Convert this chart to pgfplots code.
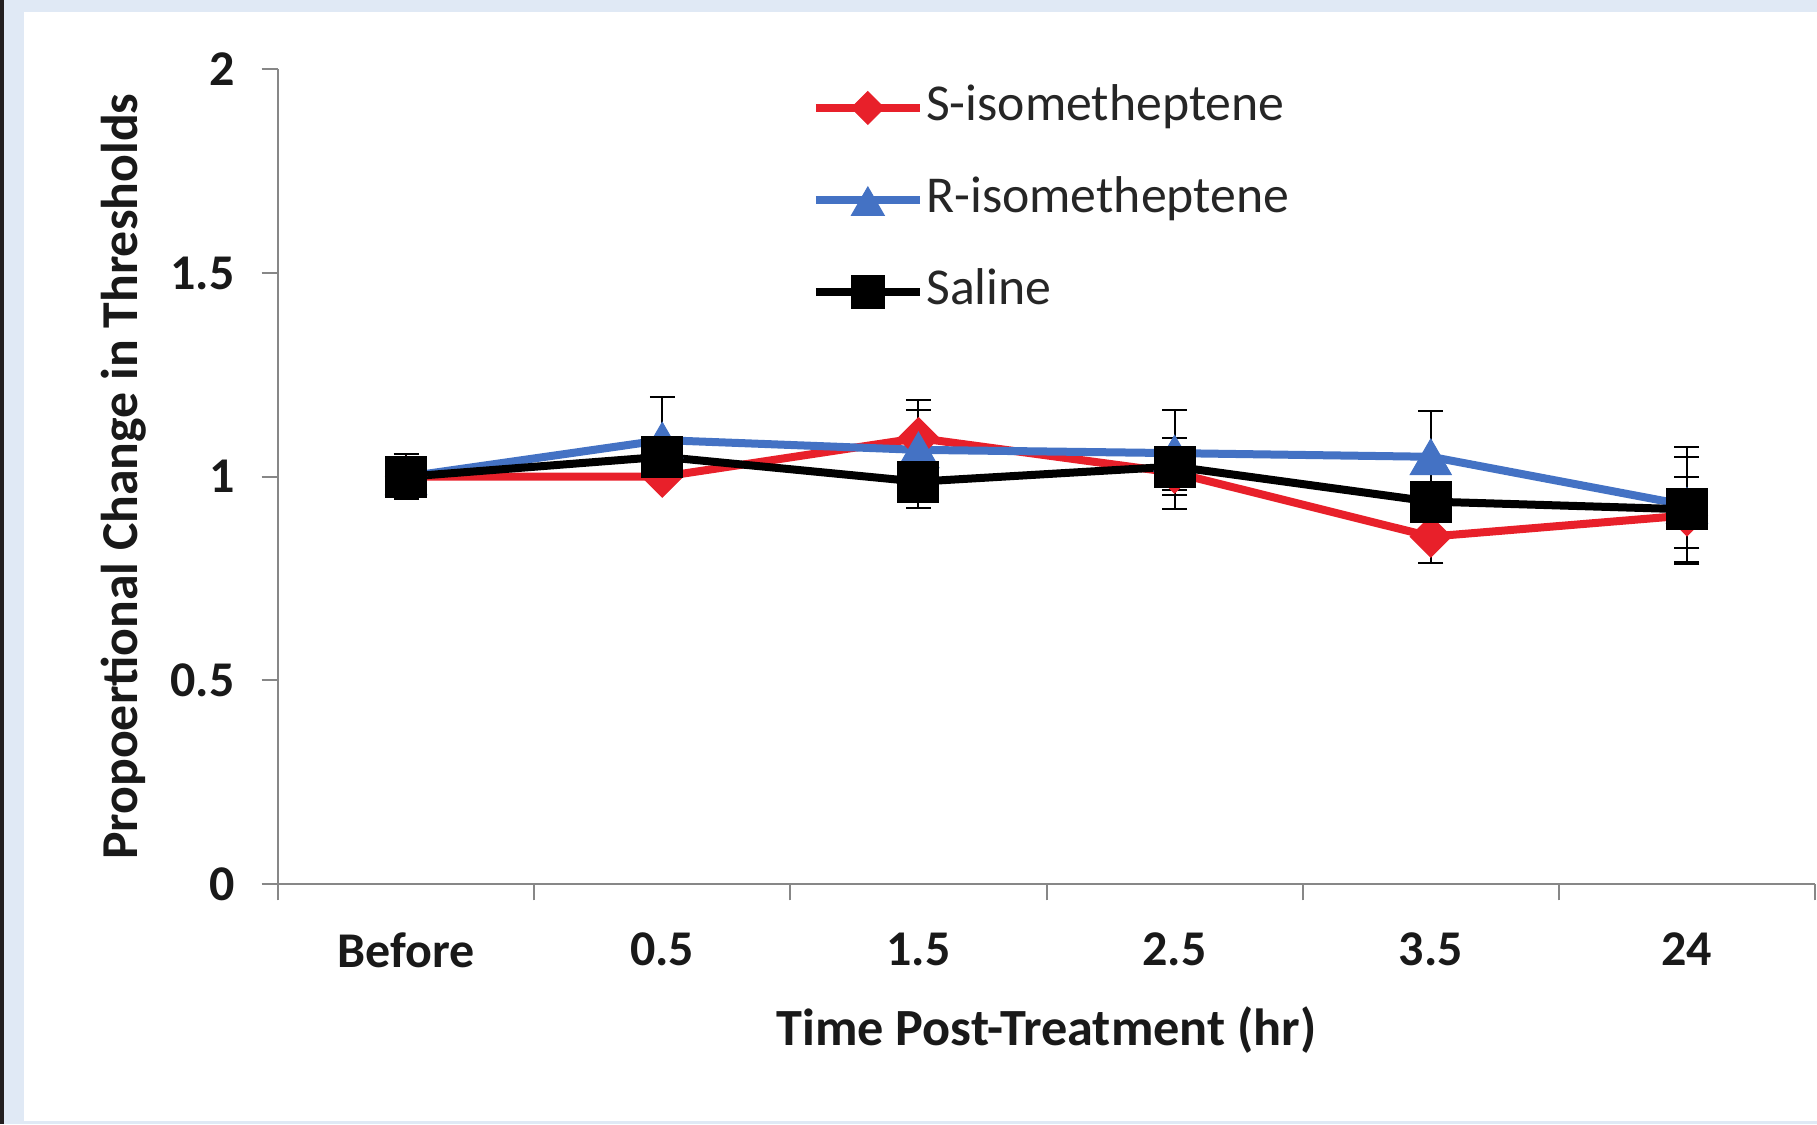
\documentclass[border=0pt]{standalone}
\usepackage{fontspec}
\setmainfont{Carlito}
\usepackage{pgfplots}
\pgfplotsset{compat=1.18}
\definecolor{sred}{HTML}{E8202A}
\definecolor{rblue}{HTML}{4472C4}
\definecolor{bgblue}{HTML}{E0E9F5}
\definecolor{axgray}{HTML}{878787}
\definecolor{darkstrip}{HTML}{231F20}
\begin{document}
\begin{tikzpicture}
\useasboundingbox (0,0) rectangle (726.8pt,449.6pt);
\fill[bgblue] (0,0) rectangle (726.8pt,449.6pt);
\fill[darkstrip] (0,0) rectangle (1.6pt,449.6pt);
\fill[white] (9.6pt,1.2pt) rectangle (726.8pt,444.8pt);
\begin{axis}[
  at={(111.2pt,96pt)}, anchor=south west,
  width=614.8pt, height=325.8pt, scale only axis,
  xmin=-0.5, xmax=5.5, ymin=0, ymax=2,
  axis x line*=bottom, axis y line*=left,
  axis line style={axgray, line width=0.8pt},
  xtick={0,...,5}, xticklabels={Before,0.5,1.5,2.5,3.5,24},
  minor xtick={-0.5,0.5,...,5.5},
  ytick={0,0.5,1,1.5,2}, yticklabels={0,0.5,1,1.5,2},
  tick align=outside,
  major tick length=6.5pt, minor tick length=6.5pt,
  tick style={axgray, line width=0.8pt},
  major x tick style={draw=none},
  ticklabel style={font=\bfseries\fontsize{20}{24}\selectfont, text=black!90},
  x tick label style={yshift=-9.6pt},
  y tick label style={xshift=-7.3pt},
  xlabel={Time Post-Treatment (hr)},
  ylabel={Propoertional Change in Thresholds},
  every axis x label/.style={at={(axis description cs:0.5,-0.1977)}, anchor=base,
    font=\bfseries\fontsize{20.9}{24}\selectfont, text=black!90},
  every axis y label/.style={at={(axis description cs:-0.0911,0.5)}, anchor=base, rotate=90,
    font=\bfseries\fontsize{20.7}{24}\selectfont, text=black!90},
  legend style={at={(axis description cs:0.347,0.981)}, anchor=north west, draw=none, fill=none,
    inner sep=0pt, row sep=18.8pt, column sep=1pt, font=\fontsize{20.7}{24}\selectfont,
    nodes={inner sep=0pt, text height=14pt, text depth=4pt, text=black!85}},
  legend cell align=left,
  legend image code/.code={\draw[mark repeat=2, mark phase=2, #1, every mark/.append style={scale=0.8}] plot coordinates {(0pt,0pt) (20.8pt,0pt) (41.6pt,0pt)};},
  clip=false,
  error bars/error bar style={black, line width=0.8pt},
  error bars/error mark options={black, line width=0.8pt, mark size=5pt, rotate=90},
]
\addplot[sred, line width=3.2pt, mark=square*, mark size=5.8pt,
  mark options={solid, fill=sred, draw=sred, line width=0.4pt, rotate=45},
  error bars/.cd, y dir=both, y explicit]
  coordinates {
  (0,1.00) +- (0,0.02)
  (1,1.00) +- (0,0.01)
  (2,1.095) +- (0,0.093)
  (3,1.01) +- (0,0.043)
  (4,0.853) +- (0,0.066)
  (5,0.905) += (0,0.095) -= (0,0.08)
  };
\addlegendentry{S-isometheptene}
\addplot[rblue, line width=3.2pt, mark=triangle*, mark size=9.5pt,
  mark options={solid, fill=rblue, draw=rblue, line width=0.4pt, yshift=-2.4pt},
  error bars/.cd, y dir=both, y explicit]
  coordinates {
  (0,1.00) +- (0,0.02)
  (1,1.09) += (0,0.105) -= (0,0.06)
  (2,1.066) +- (0,0.098)
  (3,1.058) += (0,0.106) -= (0,0.136)
  (4,1.049) +- (0,0.113)
  (5,0.93) +- (0,0.144)
  };
\addlegendentry{R-isometheptene}
\addplot[black, line width=3.2pt, mark=square*, mark size=8.2pt,
  mark options={solid, fill=black, draw=black, line width=0.4pt},
  error bars/.cd, y dir=both, y explicit]
  coordinates {
  (0,1.00) +- (0,0.055)
  (1,1.049) +- (0,0.03)
  (2,0.988) +- (0,0.065)
  (3,1.025) +- (0,0.071)
  (4,0.939) +- (0,0.04)
  (5,0.92) +- (0,0.129)
  };
\addlegendentry{Saline}
\end{axis}
\end{tikzpicture}
\end{document}
